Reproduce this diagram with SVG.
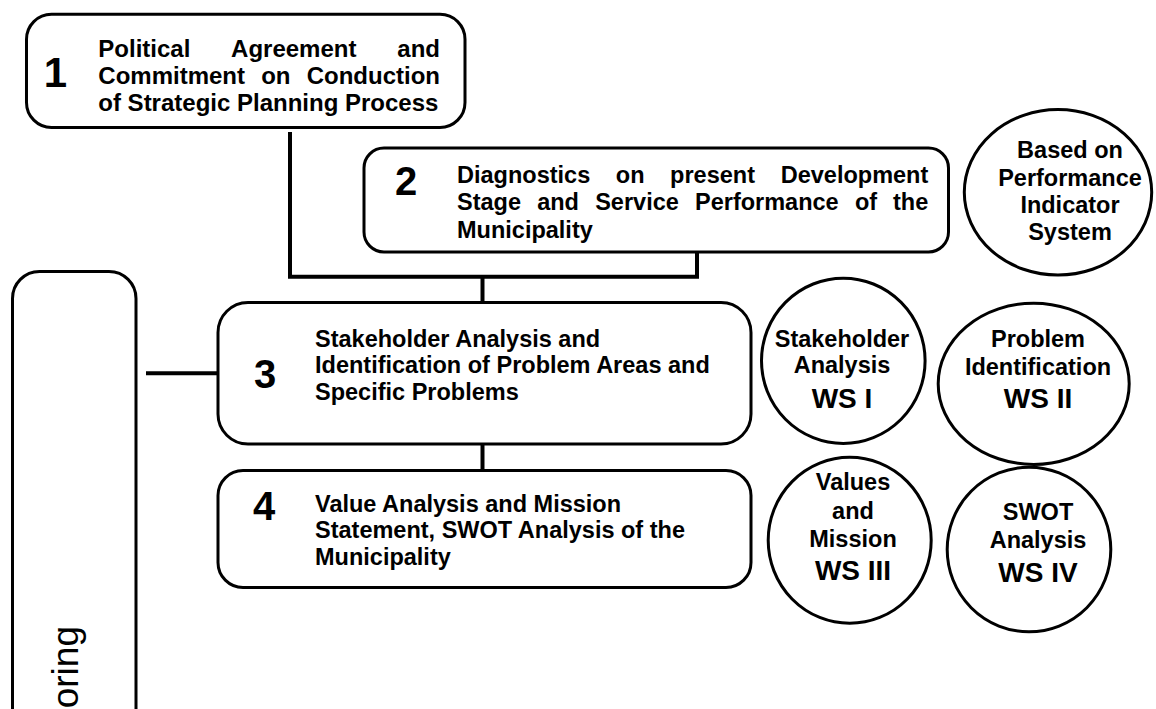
<svg xmlns="http://www.w3.org/2000/svg" width="1156" height="709" viewBox="0 0 1156 709">
<style>
.box{fill:#fff;stroke:#000;stroke-width:3}
.conn{fill:none;stroke:#000;stroke-width:4;stroke-linejoin:miter}
.t{font-family:"Liberation Sans",Arial,Helvetica,sans-serif;font-weight:bold;font-size:23.5px;fill:#000}
.b1{font-size:24px}
.num{font-size:40px;text-anchor:middle}
.ws{font-size:28px}
.c{text-anchor:middle}
.e{text-anchor:end}
.side{font-family:"Liberation Sans",Arial,Helvetica,sans-serif;font-size:37px;fill:#000}
</style>
<rect width="1156" height="709" fill="#fff"/>
<g id="connectors">
<polyline class="conn" points="290,132 290,276.7 697,276.7 697,252"/>
<line class="conn" x1="482.5" y1="276.7" x2="482.5" y2="302"/>
<line class="conn" x1="482.5" y1="444" x2="482.5" y2="470"/>
<line class="conn" x1="146" y1="373.3" x2="218" y2="373.3"/>
</g>
<g id="monitoring">
<rect class="box" x="12.5" y="271.5" width="123.5" height="520" rx="27" ry="27"/>
<text class="side" text-anchor="end" transform="translate(78,626) rotate(-90)">oring</text>
</g>
<g id="step1">
<rect class="box" x="26.5" y="14.3" width="438.5" height="113.2" rx="25" ry="25"/>
<text class="t num" x="55.5" y="87" style="font-size:42px">1</text>
<text class="t b1" y="57"><tspan x="98.3">Political</tspan><tspan x="231.1">Agreement</tspan></text>
<text class="t b1 e" x="440" y="57">and</text>
<text class="t b1" y="84"><tspan x="98.3">Commitment</tspan><tspan x="261.2">on</tspan></text>
<text class="t b1 e" x="440" y="84">Conduction</text>
<text class="t b1" x="98.3" y="111">of Strategic Planning Process</text>
</g>
<g id="step2">
<rect class="box" x="364" y="148" width="584.5" height="104" rx="20" ry="20"/>
<text class="t num" x="406" y="195">2</text>
<text class="t" y="182.5"><tspan x="457">Diagnostics</tspan><tspan x="615.8">on</tspan><tspan x="670.1">present</tspan></text>
<text class="t e" x="928.3" y="182.5">Development</text>
<text class="t" y="210"><tspan x="457">Stage</tspan><tspan x="537.2">and</tspan><tspan x="595.2">Service</tspan><tspan x="695">Performance</tspan><tspan x="854.9">of</tspan></text>
<text class="t e" x="928.3" y="210">the</text>
<text class="t" x="457" y="237.5">Municipality</text>
</g>
<g id="indicator">
<ellipse class="box" cx="1058" cy="192.3" rx="93.7" ry="82.8"/>
<text class="t c" x="1070" y="158">Based on</text>
<text class="t c" x="1070" y="185.5">Performance</text>
<text class="t c" x="1070" y="213">Indicator</text>
<text class="t c" x="1070" y="240">System</text>
</g>
<g id="step3">
<rect class="box" x="218" y="302.5" width="533" height="141.5" rx="30" ry="30"/>
<text class="t num" x="265" y="388">3</text>
<text class="t" x="315" y="346.7">Stakeholder Analysis and</text>
<text class="t" x="315" y="373.3">Identification of Problem Areas and</text>
<text class="t" x="315" y="400">Specific Problems</text>
</g>
<g id="step4">
<rect class="box" x="218" y="470.5" width="533" height="117" rx="25" ry="25"/>
<text class="t num" x="264" y="520">4</text>
<text class="t" x="315" y="511.7">Value Analysis and Mission</text>
<text class="t" x="315" y="538.3">Statement, SWOT Analysis of the</text>
<text class="t" x="315" y="565">Municipality</text>
</g>
<g id="ws1">
<ellipse class="box" cx="843.3" cy="360.8" rx="81.8" ry="82.6"/>
<text class="t c" x="842" y="346.7">Stakeholder</text>
<text class="t c" x="842" y="373.3">Analysis</text>
<text class="t c ws" x="842" y="408.3">WS I</text>
</g>
<g id="ws2">
<ellipse class="box" cx="1033.7" cy="383.8" rx="95.5" ry="80.6"/>
<text class="t c" x="1038" y="346.7">Problem</text>
<text class="t c" x="1038" y="375">Identification</text>
<text class="t c ws" x="1038" y="408.3">WS II</text>
</g>
<g id="ws3">
<ellipse class="box" cx="849.7" cy="540.3" rx="81.5" ry="83"/>
<text class="t c" x="853" y="490">Values</text>
<text class="t c" x="853" y="518.5">and</text>
<text class="t c" x="853" y="546.5">Mission</text>
<text class="t c ws" x="853" y="580">WS III</text>
</g>
<g id="ws4">
<ellipse class="box" cx="1029" cy="549.5" rx="81.8" ry="82.3"/>
<text class="t c" x="1038" y="520">SWOT</text>
<text class="t c" x="1038" y="548.3">Analysis</text>
<text class="t c ws" x="1038" y="581.7">WS IV</text>
</g>
</svg>
